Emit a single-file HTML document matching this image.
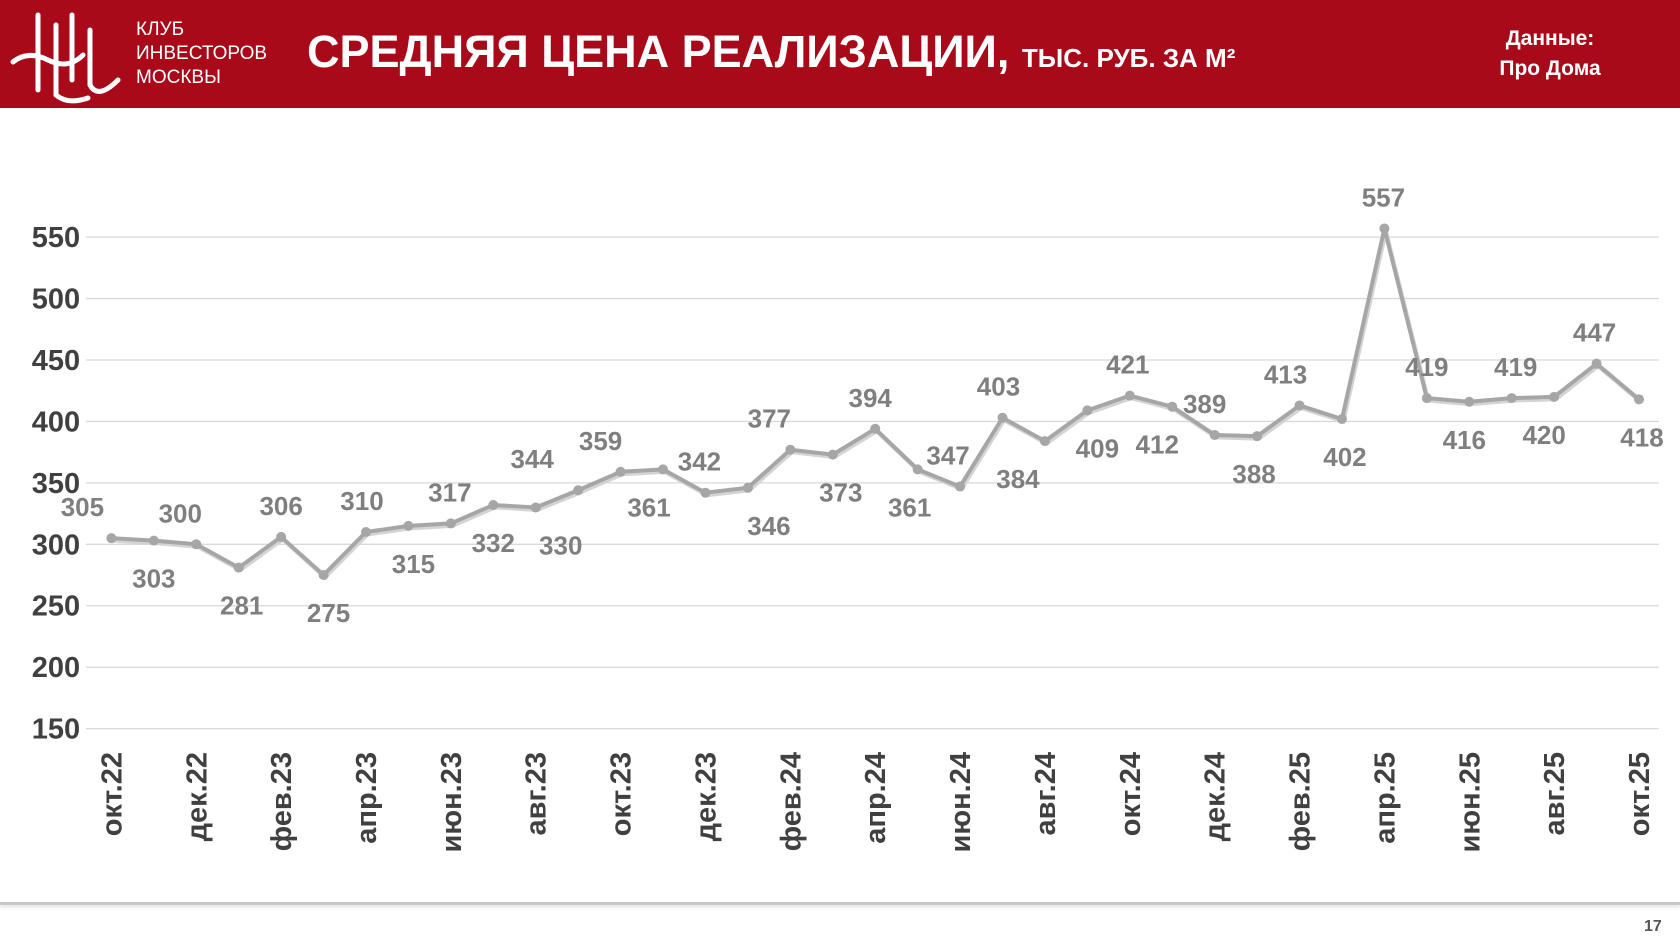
<!DOCTYPE html>
<html><head><meta charset="utf-8">
<style>
body{margin:0;width:1680px;height:945px;background:#fff;overflow:hidden;font-family:"Liberation Sans",sans-serif;position:relative}
#hdr{position:absolute;left:0;top:0;width:1680px;height:108px;background:#a80a1a}
.w{color:#fff;position:absolute}
</style></head><body>
<div id="hdr">
  <svg style="position:absolute;left:8px;top:10px" width="120" height="95" viewBox="0 0 120 95">
    <g fill="none" stroke="#fff" stroke-width="5" stroke-linecap="round">
      <path d="M30 5 V80"/><path d="M48 15 V85"/><path d="M64 5 V70"/><path d="M82 20 V75 Q90 90 110 70"/>
      <path d="M5 52 Q20 40 40 50 Q60 60 75 45"/><path d="M48 85 Q60 95 80 88"/>
    </g>
  </svg>
  <div class="w" style="left:136px;top:18px;font-size:19px;line-height:24px;font-family:'Liberation Sans Narrow','Liberation Sans',sans-serif">КЛУБ<br>ИНВЕСТОРОВ<br>МОСКВЫ</div>
  <div class="w" style="left:307px;top:26px;font-size:45px;font-weight:bold;white-space:nowrap">СРЕДНЯЯ ЦЕНА РЕАЛИЗАЦИИ, <span style="font-size:26px">ТЫС. РУБ. ЗА М²</span></div>
  <div class="w" style="left:1450px;top:24px;width:200px;text-align:center;font-size:21px;font-weight:bold;line-height:30px">Данные:<br>Про Дома</div>
</div>
<svg id="chart" width="1680" height="945" style="position:absolute;left:0;top:0"></svg>
<div style="position:absolute;left:0;top:902px;width:1680px;height:3px;background:#c8c8c8;box-shadow:0 2px 3px #ddd"></div>
<div style="position:absolute;left:1644px;top:918px;font-size:16px;color:#555;font-weight:bold">17</div>
<script>
const categories=["окт.22","ноя.22","дек.22","янв.23","фев.23","мар.23","апр.23","май.23","июн.23","июл.23","авг.23","сен.23","окт.23","ноя.23","дек.23","янв.24","фев.24","мар.24","апр.24","май.24","июн.24","июл.24","авг.24","сен.24","окт.24","ноя.24","дек.24","янв.25","фев.25","мар.25","апр.25","май.25","июн.25","июл.25","авг.25","сен.25","окт.25"];
const values=[305,303,300,281,306,275,310,315,317,332,330,344,359,361,342,346,377,373,394,361,347,403,384,409,421,412,389,388,413,402,557,419,416,419,420,447,418];
const yTicks=[150,200,250,300,350,400,450,500,550];
// label offsets (layout, px)
const ldx=[-29,0,-16,3,0,5,-4,5,-1,0,25,-46,-20,-14,-6,21,-21,8,-5,-8,-12,-4,-27,10,-2,-15,-10,-3,-14,3,-1,0,-5,4,-10,-2,3];
const lab=["a","b","a","b","a","b","a","b","a","b","b","a","a","b","a","b","a","b","a","b","a","a","b","b","a","b","a","b","a","b","a","a","b","a","b","a","b"];
const NS="http://www.w3.org/2000/svg",svg=document.getElementById('chart');
const x0=111.4,x1=1639,yA=728.6,yB=544.3;
const xs=i=>x0+(x1-x0)*i/(categories.length-1);
const ys=v=>yA+(v-150)*(yB-yA)/150;
function mk(t,a){const e=document.createElementNS(NS,t);for(const k in a)e.setAttribute(k,a[k]);svg.appendChild(e);return e;}
yTicks.forEach(v=>{
  const l=mk('line',{x1:86,x2:1659,y1:ys(v),y2:ys(v),stroke:'#d9d9d9','stroke-width':1.3});
  
  
  const t=mk('text',{x:56,y:ys(v)+10,'text-anchor':'middle','font-size':29,'font-weight':'bold',fill:'#404040','font-family':'Liberation Sans Narrow, Liberation Sans, sans-serif'});
  t.textContent=v;
  
  
});
categories.forEach((c,i)=>{
  if(i%2)return;
  const x=xs(i),y=752;
  const t=mk('text',{x:0,y:0,transform:`translate(${x+10},${y}) rotate(-90)`,'text-anchor':'end','font-size':29,'font-weight':'bold',fill:'#404040'});
  t.textContent=c;
  
  
});
const pts=values.map((v,i)=>xs(i)+','+ys(v)).join(' ');
const sh=mk('polyline',{points:values.map((v,i)=>(xs(i)+1.5)+','+(ys(v)+2.5)).join(' '),fill:'none',stroke:'#d4d4d4','stroke-width':4});


const pl=mk('polyline',{points:pts,fill:'none',stroke:'#a6a6a6','stroke-width':4,'stroke-linejoin':'round'});


values.forEach((v,i)=>{
  const c=mk('circle',{cx:xs(i),cy:ys(v),r:5,fill:'#a6a6a6'});
  
  
  const t=mk('text',{x:xs(i)+ldx[i],y:ys(v)+(lab[i]=='a'?-22:47),'text-anchor':'middle','font-size':26,'font-weight':'bold',fill:'#7f7f7f','font-family':'Liberation Sans Narrow, Liberation Sans, sans-serif'});
  t.textContent=v;
  
  
});
</script>
</body></html>
